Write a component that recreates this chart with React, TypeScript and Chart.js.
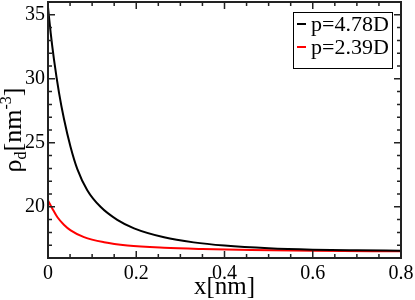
import React, { useEffect, useRef } from "react";
import { Chart, registerables } from "chart.js";

Chart.register(...registerables);

const blackX = [0, 0.006, 0.0136, 0.025, 0.036, 0.051, 0.0665, 0.089, 0.119, 0.157, 0.195, 0.263, 0.33, 0.4, 0.5, 0.6, 0.7, 0.8];
const blackY = [35.6, 33.6, 31.5, 28.9, 26.9, 24.7, 22.95, 21.3, 20.0, 18.98, 18.32, 17.62, 17.22, 16.97, 16.76, 16.65, 16.6, 16.57];
const redX = [0, 0.01, 0.021, 0.036, 0.0514, 0.0816, 0.127, 0.18, 0.263, 0.35, 0.46, 0.6, 0.8];
const redY = [20.5, 19.85, 19.2, 18.6, 18.16, 17.63, 17.23, 16.98, 16.8, 16.7, 16.62, 16.56, 16.52];
const seriesLabels = ["p=4.78D", "p=2.39D"];
const seriesColors = ["#000000", "#ff0000"];
const xTicks = [0, 0.2, 0.4, 0.6, 0.8];
const yTicks = [20, 25, 30, 35];
const xMinorStep = 0.05;
const yMinorStep = 1;
const xRange = [0, 0.8];
const yRange = [16, 36];
const xTitle = "x[nm]";

const SERIF = "'Liberation Serif', 'Times New Roman', serif";

const decorPlugin = {
  id: "decor",
  afterDraw(chart: any) {
    const ctx = chart.ctx as CanvasRenderingContext2D;
    const { left, right, top, bottom } = chart.chartArea;
    const xs = chart.scales.x;
    const ys = chart.scales.y;
    ctx.save();
    // frame
    ctx.strokeStyle = "#222";
    ctx.lineWidth = 2;
    ctx.strokeRect(left, top, right - left, bottom - top);
    // ticks
    ctx.lineWidth = 1.5;
    ctx.beginPath();
    const eps = 1e-9;
    for (let v = xRange[0]; v <= xRange[1] + eps; v += xMinorStep) {
      const px = xs.getPixelForValue(v);
      const major = xTicks.some((t) => Math.abs(t - v) < 1e-6);
      const len = major ? 7 : 4;
      ctx.moveTo(px, bottom);
      ctx.lineTo(px, bottom - len);
      ctx.moveTo(px, top);
      ctx.lineTo(px, top + len);
    }
    for (let v = yRange[0]; v <= yRange[1] + eps; v += yMinorStep) {
      const py = ys.getPixelForValue(v);
      const major = yTicks.some((t) => Math.abs(t - v) < 1e-6);
      const len = major ? 7 : 4;
      ctx.moveTo(left, py);
      ctx.lineTo(left + len, py);
      ctx.moveTo(right, py);
      ctx.lineTo(right - len, py);
    }
    ctx.stroke();

    // x title
    ctx.fillStyle = "#000";
    ctx.font = "25px " + SERIF;
    ctx.textAlign = "center";
    ctx.textBaseline = "alphabetic";
    ctx.fillText(xTitle, (left + right) / 2, 294);

    // y title: rho_d[nm^-3]
    const big = "26px " + SERIF;
    const small = "16px " + SERIF;
    const parts: [string, string, number][] = [
      ["ρ", big, 0],
      ["d", small, 5],
      ["[nm", big, 0],
      ["-3", small, -10],
      ["]", big, 0],
    ];
    let total = 0;
    for (const p of parts) {
      ctx.font = p[1];
      total += ctx.measureText(p[0]).width;
    }
    const cy = (top + bottom) / 2;
    ctx.translate(21, cy);
    ctx.rotate(-Math.PI / 2);
    ctx.textAlign = "left";
    let cx = -total / 2;
    for (const p of parts) {
      ctx.font = p[1];
      ctx.fillText(p[0], cx, p[2]);
      cx += ctx.measureText(p[0]).width;
    }
    ctx.setTransform(1, 0, 0, 1, 0, 0);

    // legend
    ctx.strokeStyle = "#000";
    ctx.lineWidth = 1;
    ctx.strokeRect(293.5, 12.5, 99, 56);
    ctx.font = "22px " + SERIF;
    ctx.textBaseline = "middle";
    seriesLabels.forEach((lab, i) => {
      const y = 24 + i * 23;
      ctx.strokeStyle = seriesColors[i];
      ctx.lineWidth = 2;
      ctx.beginPath();
      ctx.moveTo(297, y);
      ctx.lineTo(306, y);
      ctx.stroke();
      ctx.fillStyle = "#000";
      ctx.fillText(lab, 311, y + 1);
    });
    ctx.restore();
  },
};

export default function App() {
  const ref = useRef<HTMLCanvasElement>(null);
  useEffect(() => {
    document.body.style.margin = "0";
    const chart = new Chart(ref.current!, {
      type: "line",
      data: {
        datasets: [
          {
            label: seriesLabels[0],
            data: blackX.map((x, i) => ({ x, y: blackY[i] })),
            borderColor: seriesColors[0],
            borderWidth: 2,
            pointRadius: 0,
            cubicInterpolationMode: "monotone",
          },
          {
            label: seriesLabels[1],
            data: redX.map((x, i) => ({ x, y: redY[i] })),
            borderColor: seriesColors[1],
            borderWidth: 2,
            pointRadius: 0,
            cubicInterpolationMode: "monotone",
          },
        ],
      },
      options: {
        animation: false,
        responsive: true,
        maintainAspectRatio: false,
        layout: { padding: { left: 0, right: 14, top: 2, bottom: 0 } },
        plugins: { legend: { display: false }, tooltip: { enabled: false } },
        scales: {
          x: {
            type: "linear",
            min: xRange[0],
            max: xRange[1],
            grid: { display: false, drawTicks: false },
            border: { display: false },
            afterBuildTicks: (s: any) => {
              s.ticks = xTicks.map((v) => ({ value: v }));
            },
            afterFit: (s: any) => {
              s.height = 42;
              s.paddingLeft = 0;
              s.paddingRight = 0;
            },
            ticks: {
              color: "#000",
              padding: 4,
              maxRotation: 0,
              font: { family: SERIF, size: 20 },
              callback: (v: any) => String(v),
            },
          },
          y: {
            type: "linear",
            min: yRange[0],
            max: yRange[1],
            grid: { display: false, drawTicks: false },
            border: { display: false },
            afterBuildTicks: (s: any) => {
              s.ticks = yTicks.map((v) => ({ value: v }));
            },
            afterFit: (s: any) => {
              s.width = 48;
              s.paddingTop = 0;
              s.paddingBottom = 0;
            },
            ticks: {
              color: "#000",
              padding: 3,
              font: { family: SERIF, size: 20 },
            },
          },
        },
      },
      plugins: [decorPlugin],
    } as any);
    return () => chart.destroy();
  }, []);
  return (
    <div style={{ position: "absolute", left: 0, top: 0, width: 415, height: 300 }}>
      <canvas ref={ref} />
    </div>
  );
}
